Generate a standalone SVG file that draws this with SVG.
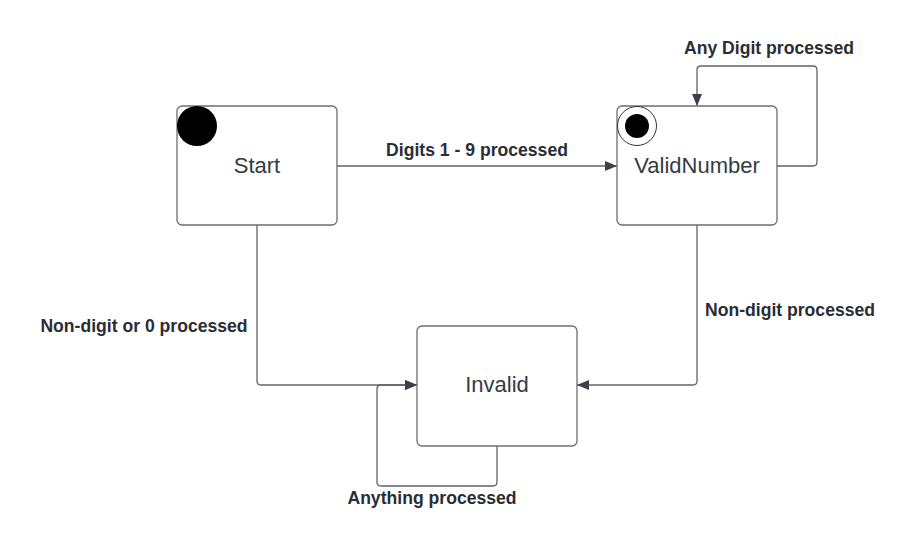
<svg xmlns="http://www.w3.org/2000/svg" width="916" height="552" viewBox="0 0 916 552">
<style>
.node{fill:#fff;stroke:#6b6e75;stroke-width:1.3}
.nt{font-family:"Liberation Sans",Arial,sans-serif;font-size:22px;fill:#333a45;text-anchor:middle}
.lb{font-family:"Liberation Sans",Arial,sans-serif;font-size:17.6px;font-weight:bold;fill:#2a2d33;text-anchor:middle}
.edge{fill:none;stroke:#5f636b;stroke-width:1.3}
</style>
<defs>
<marker id="ah" viewBox="0 0 12 10" refX="12" refY="5" markerWidth="12" markerHeight="10" markerUnits="userSpaceOnUse" orient="auto">
<path d="M0,0 L12,5 L0,10 Z" fill="#3a414b"/>
</marker>
</defs>
<rect width="916" height="552" fill="#fff"/>
<g id="connectors">
<path class="edge" d="M337,166 L617,166" marker-end="url(#ah)"/>
<path class="edge" d="M777,166 L813,166 Q817,166 817,162 L817,70 Q817,66 813,66 L701,66 Q697,66 697,70 L697,106" marker-end="url(#ah)"/>
<path class="edge" d="M257,225 L257,381 Q257,385 261,385 L417,385" marker-end="url(#ah)"/>
<path class="edge" d="M697,225 L697,381 Q697,385 693,385 L577,385" marker-end="url(#ah)"/>
<path class="edge" d="M497,446 L497,482 Q497,486 493,486 L381,486 Q377,486 377,482 L377,389 Q377,385 381,385 L417,385" marker-end="url(#ah)"/>
<text class="lb" x="477" y="156">Digits 1 - 9 processed</text>
<text class="lb" x="769" y="54">Any Digit processed</text>
<text class="lb" x="144" y="332">Non-digit or 0 processed</text>
<text class="lb" x="790" y="316">Non-digit processed</text>
<text class="lb" x="432" y="504">Anything processed</text>
</g>
<g id="start">
<rect class="node" x="177" y="106" width="160" height="119" rx="5"/>
<circle cx="197" cy="126" r="20" fill="#000"/>
<text class="nt" x="257" y="173">Start</text>
</g>
<g id="validnumber">
<rect class="node" x="617" y="106" width="160" height="119" rx="5"/>
<circle cx="637" cy="126" r="19.5" fill="#fff" stroke="#333" stroke-width="1"/>
<circle cx="637" cy="126" r="12" fill="#000"/>
<text class="nt" x="697" y="173">ValidNumber</text>
</g>
<g id="invalid">
<rect class="node" x="417" y="326" width="160" height="120" rx="5"/>
<text class="nt" x="497" y="392">Invalid</text>
</g>
</svg>
